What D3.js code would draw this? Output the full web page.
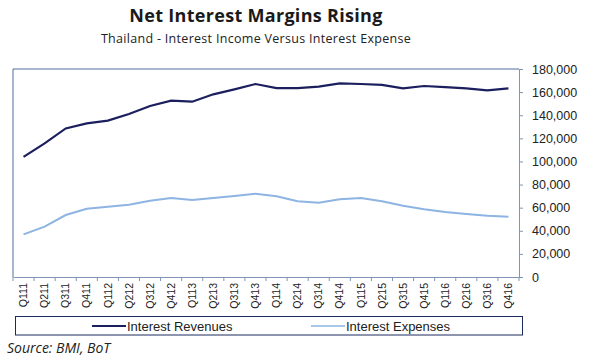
<!DOCTYPE html>
<html><head><meta charset="utf-8">
<script src="https://cdn.jsdelivr.net/npm/d3@7"></script>
<style>body{margin:0;background:#fff}</style>
</head><body><svg id="c" width="600" height="360"></svg>
<script>
const categories = ["Q111","Q211","Q311","Q411","Q112","Q212","Q312","Q412","Q113","Q213","Q313","Q413","Q114","Q214","Q314","Q414","Q115","Q215","Q315","Q415","Q116","Q216","Q316","Q416"];
const revenues = [104000,115700,128600,133000,135300,141000,148000,152600,151700,158100,162400,167000,163500,163500,164700,167600,167000,166200,163300,165300,164400,163300,161500,163300];
const expenses = [36900,43600,53650,59100,60850,62600,66000,68400,66600,68400,70100,72100,69800,65500,64300,67200,68400,65500,61700,58600,56300,54500,53100,52200];
const yTicks = [0,20000,40000,60000,80000,100000,120000,140000,160000,180000];
const seriesNames = ["Interest Revenues","Interest Expenses"];

const svg = d3.select("#c");
const L=13, R=519, T=69, B=277;
const x = d3.scaleBand().domain(categories).range([L,R]);
const y = d3.scaleLinear().domain([0,180000]).range([B,T]);
const axisCol = "#7f95b3";

svg.append("text").attr("x",256).attr("y",22).attr("text-anchor","middle")
  .attr("font-family","Open Sans").attr("font-weight","bold").attr("font-size",18).attr("fill","#1a1a1a")
  .attr("letter-spacing",0.3)
  .text("Net Interest Margins Rising");
svg.append("text").attr("x",256).attr("y",43).attr("text-anchor","middle")
  .attr("font-family","Open Sans").attr("font-size",12.5).attr("fill","#222").attr("letter-spacing",0.3)
  .text("Thailand - Interest Income Versus Interest Expense");

// frame
svg.append("path").attr("d",`M${R},${T}H${L}V${B}`).attr("fill","none").attr("stroke","#4f6f9a").attr("stroke-width",1);

const yAx = svg.append("g").attr("transform",`translate(${R},0)`)
  .call(d3.axisRight(y).tickValues(yTicks).tickSize(4).tickPadding(9).tickFormat(d3.format(",")));
yAx.select(".domain").attr("stroke",axisCol);
yAx.selectAll(".tick line").attr("stroke",axisCol);
yAx.selectAll("text").attr("font-family","Liberation Sans").attr("font-size",12.5).attr("fill","#222");

const xAx = svg.append("g").attr("transform",`translate(0,${B})`)
  .call(d3.axisBottom(x).tickSize(0).tickPadding(0));
xAx.select(".domain").attr("stroke",axisCol);
xAx.selectAll("text").attr("font-family","Liberation Sans").attr("font-size",10.5).attr("fill","#222")
  .attr("transform","rotate(-90)").attr("text-anchor","end").attr("dy","0.35em")
  .attr("x",-6).attr("y",0);
// boundary ticks
svg.append("g").selectAll("line").data(categories.concat(["_end"])).join("line")
  .attr("x1",(d,i)=>L+i*x.bandwidth()).attr("x2",(d,i)=>L+i*x.bandwidth())
  .attr("y1",B).attr("y2",B+4).attr("stroke",axisCol);

const line = d3.line().x((d,i)=>x(categories[i])+x.bandwidth()/2).y(d=>y(d));
svg.append("path").datum(expenses).attr("d",line).attr("fill","none").attr("stroke","#8db4e2").attr("stroke-width",2);
svg.append("path").datum(revenues).attr("d",line).attr("fill","none").attr("stroke","#1b1f5e").attr("stroke-width",2.2);

// legend
svg.append("rect").attr("x",15.5).attr("y",316.5).attr("width",507).attr("height",18.5)
  .attr("fill","#fff").attr("stroke","#1b2a5e").attr("stroke-width",1);
const leg = [{n:seriesNames[0],c:"#1b1f5e",x:92},{n:seriesNames[1],c:"#8db4e2",x:311}];
leg.forEach(l=>{
  svg.append("line").attr("x1",l.x).attr("x2",l.x+34).attr("y1",326).attr("y2",326).attr("stroke",l.c).attr("stroke-width",l.c==="#1b1f5e"?2:1.5);
  svg.append("text").attr("x",l.x+35).attr("y",330.5).attr("font-family","Liberation Sans").attr("font-size",13).attr("fill","#222").text(l.n);
});

svg.append("text").attr("x",7).attr("y",353).attr("font-family","Open Sans").attr("font-style","italic")
  .attr("font-size",14).attr("fill","#222").text("Source: BMI, BoT");
</script></body></html>
